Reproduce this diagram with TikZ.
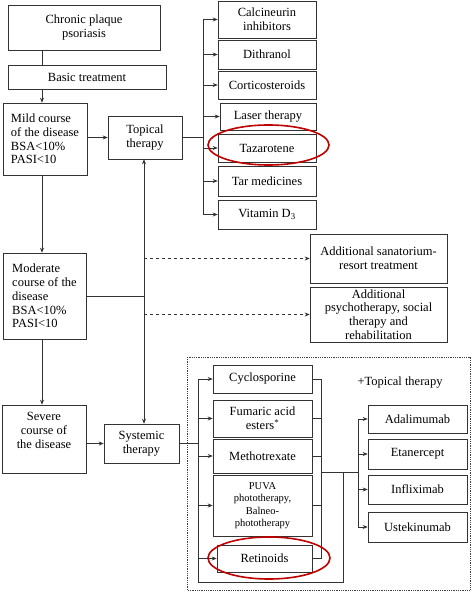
\documentclass[tikz,border=0pt]{standalone}
\usepackage{fontspec}
\setmainfont{Liberation Serif}
\usetikzlibrary{arrows.meta}
\tikzset{
	box/.style={draw=black!80, line width=0.6pt, align=center, inner sep=2pt,
		font=\fontsize{12.5pt}{13.8pt}\selectfont},
	leftbox/.style={box, align=left},
	link/.style={draw=black!80, line width=0.6pt},
	arr/.style={link, -{Stealth[length=5pt, width=4pt]}},
	ring/.style={draw=red!75!black, line width=1.6pt},
}

\begin{document}
\begin{tikzpicture}[x=1pt, y=-1pt]
		\useasboundingbox (0,0) rectangle (474,593);

		% left column
		\node[box, minimum width=152pt, minimum height=45pt] (chronic) at (84,27.5) {Chronic plaque\\psoriasis};
		\node[box, minimum width=158pt, minimum height=24pt] (basic) at (87,77) {Basic treatment};
		\node[leftbox, minimum width=84pt, minimum height=72pt] (mild) at (45,139) {Mild course\\of the disease\\BSA<10\%\\PASI<10};
		\node[leftbox, minimum width=83pt, minimum height=86pt] (moderate) at (44.5,296) {Moderate\\course of the\\disease\\BSA<10\%\\PASI<10};
		\node[box, minimum width=84pt, minimum height=68pt] (severe) at (44,439) {Severe\\course of\\the disease\\[4pt]};

		\node[box, minimum width=74pt, minimum height=43pt] (topical) at (145,137.5) {Topical\\therapy};
		\node[box, minimum width=75pt, minimum height=39pt] (systemic) at (141.5,443.5) {Systemic\\therapy};

		% topical drugs
		\node[box, minimum width=98pt, minimum height=37pt] (calcineurin) at (267,19.5) {Calcineurin\\inhibitors};
		\node[box, minimum width=98pt, minimum height=29pt] (dithranol) at (267,54.5) {Dithranol};
		\node[box, minimum width=98pt, minimum height=28pt] (cortico) at (267,85) {Corticosteroids};
		\node[box, minimum width=96pt, minimum height=27pt] (laser) at (268,116.5) {Laser therapy};
		\node[box, minimum width=98pt, minimum height=28pt] (tazarotene) at (267,148) {Tazarotene};
		\node[box, minimum width=98pt, minimum height=30pt] (tar) at (267,181) {Tar medicines};
		\node[box, minimum width=98pt, minimum height=29pt] (vitamin) at (267,214.5) {Vitamin D\textsubscript{3}};

		% additional care
		\node[box, minimum width=137pt, minimum height=49pt] (sanatorium) at (378.5,258.5) {Additional sanatorium-\\resort treatment};
		\node[box, minimum width=137pt, minimum height=55pt] (psycho) at (378.5,314.5) {Additional\\psychotherapy, social\\therapy and\\rehabilitation};

		% systemic drugs
		\draw[densely dotted, black!75, line width=0.8pt] (187,357) rectangle (470,590);
		\node[box, minimum width=99pt, minimum height=28pt] (cyclo) at (262.5,379) {Cyclosporine};
		\node[box, minimum width=99pt, minimum height=37pt] (fumaric) at (262.5,418.5) {Fumaric acid\\esters\textsuperscript{*}};
		\node[box, minimum width=99pt, minimum height=34pt] (methotrexate) at (262.5,456) {Methotrexate};
		\node[box, minimum width=99pt, minimum height=61pt, font=\fontsize{10.5pt}{12.5pt}\selectfont] (puva) at (262.5,505.5) {PUVA\\phototherapy,\\Balneo-\\phototherapy};
		\node[box, minimum width=95pt, minimum height=27pt] (retinoids) at (264.5,558.5) {Retinoids};

		\node[font=\fontsize{12.5pt}{13.8pt}\selectfont] (plus) at (400,383) {+Topical therapy};
		\node[box, minimum width=99pt, minimum height=28pt] (adalimumab) at (417.5,419) {Adalimumab};
		\node[box, minimum width=99pt, minimum height=30pt] (etanercept) at (417.5,454) {Etanercept};
		\node[box, minimum width=99pt, minimum height=29pt] (infliximab) at (417.5,489.5) {Infliximab};
		\node[box, minimum width=99pt, minimum height=30pt] (ustekinumab) at (417.5,527) {Ustekinumab};

		% buses
		\coordinate (spine) at (42,0);
		\coordinate (mid) at (144,0);
		\coordinate (tbus) at (203,0);
		\coordinate (lbus) at (198,0);
		\coordinate (rbus) at (321,0);
		\coordinate (bbus) at (358,0);
		\coordinate (join) at (321,472);
		\coordinate (loop) at (343,582);

		\draw[link] (chronic.south -| spine) -- (basic.north -| spine);
		\draw[arr] (basic.south -| spine) -- (mild.north -| spine);
		\draw[arr] (mild.south -| spine) -- (moderate.north -| spine);
		\draw[arr] (moderate.south -| spine) -- (severe.north -| spine);
		\draw[arr] (mild.east |- topical) -- (topical.west);
		\draw[arr] (severe.east |- systemic) -- (systemic.west);

		\draw[link] (topical.east) -- (topical.east -| tbus);
		\draw[link] (tbus |- calcineurin) -- (tbus |- vitamin);
		\foreach \n in {calcineurin,dithranol,cortico,laser,tazarotene,tar,vitamin}
			\draw[arr] (tbus |- \n) -- (\n.west);

		\draw[link, {Stealth[length=5pt, width=4pt]}-{Stealth[length=5pt, width=4pt]}] (topical.south -| mid) -- (systemic.north -| mid);
		\draw[link] (moderate.east) -- (moderate.east -| mid);
		\draw[arr, dashed] (mid |- sanatorium) -- (sanatorium.west);
		\draw[arr, dashed] (mid |- psycho) -- (psycho.west);

		\draw[link] (systemic.east) -- (systemic.east -| lbus);
		\draw[link] (lbus |- cyclo) -- (lbus |- loop) -- (loop) -- (loop |- join);
		\foreach \n in {cyclo,fumaric,methotrexate,puva,retinoids} {
			\draw[arr] (lbus |- \n) -- (\n.west);
			\draw[link] (\n.east) -- (\n.east -| rbus);
		}
		\draw[link] (rbus |- cyclo) -- (rbus |- retinoids);
		\draw[link] (join) -- (join -| bbus);
		\draw[link] (bbus |- adalimumab) -- (bbus |- ustekinumab);
		\foreach \n in {adalimumab,etanercept,infliximab,ustekinumab}
			\draw[arr] (bbus |- \n) -- (\n.west);

		% highlights
		\draw[ring] (268.5,145) ellipse [x radius=60.5pt, y radius=20pt];
		\draw[ring] (269,558) ellipse [x radius=61pt, y radius=21pt];
	\end{tikzpicture}
\end{document}
